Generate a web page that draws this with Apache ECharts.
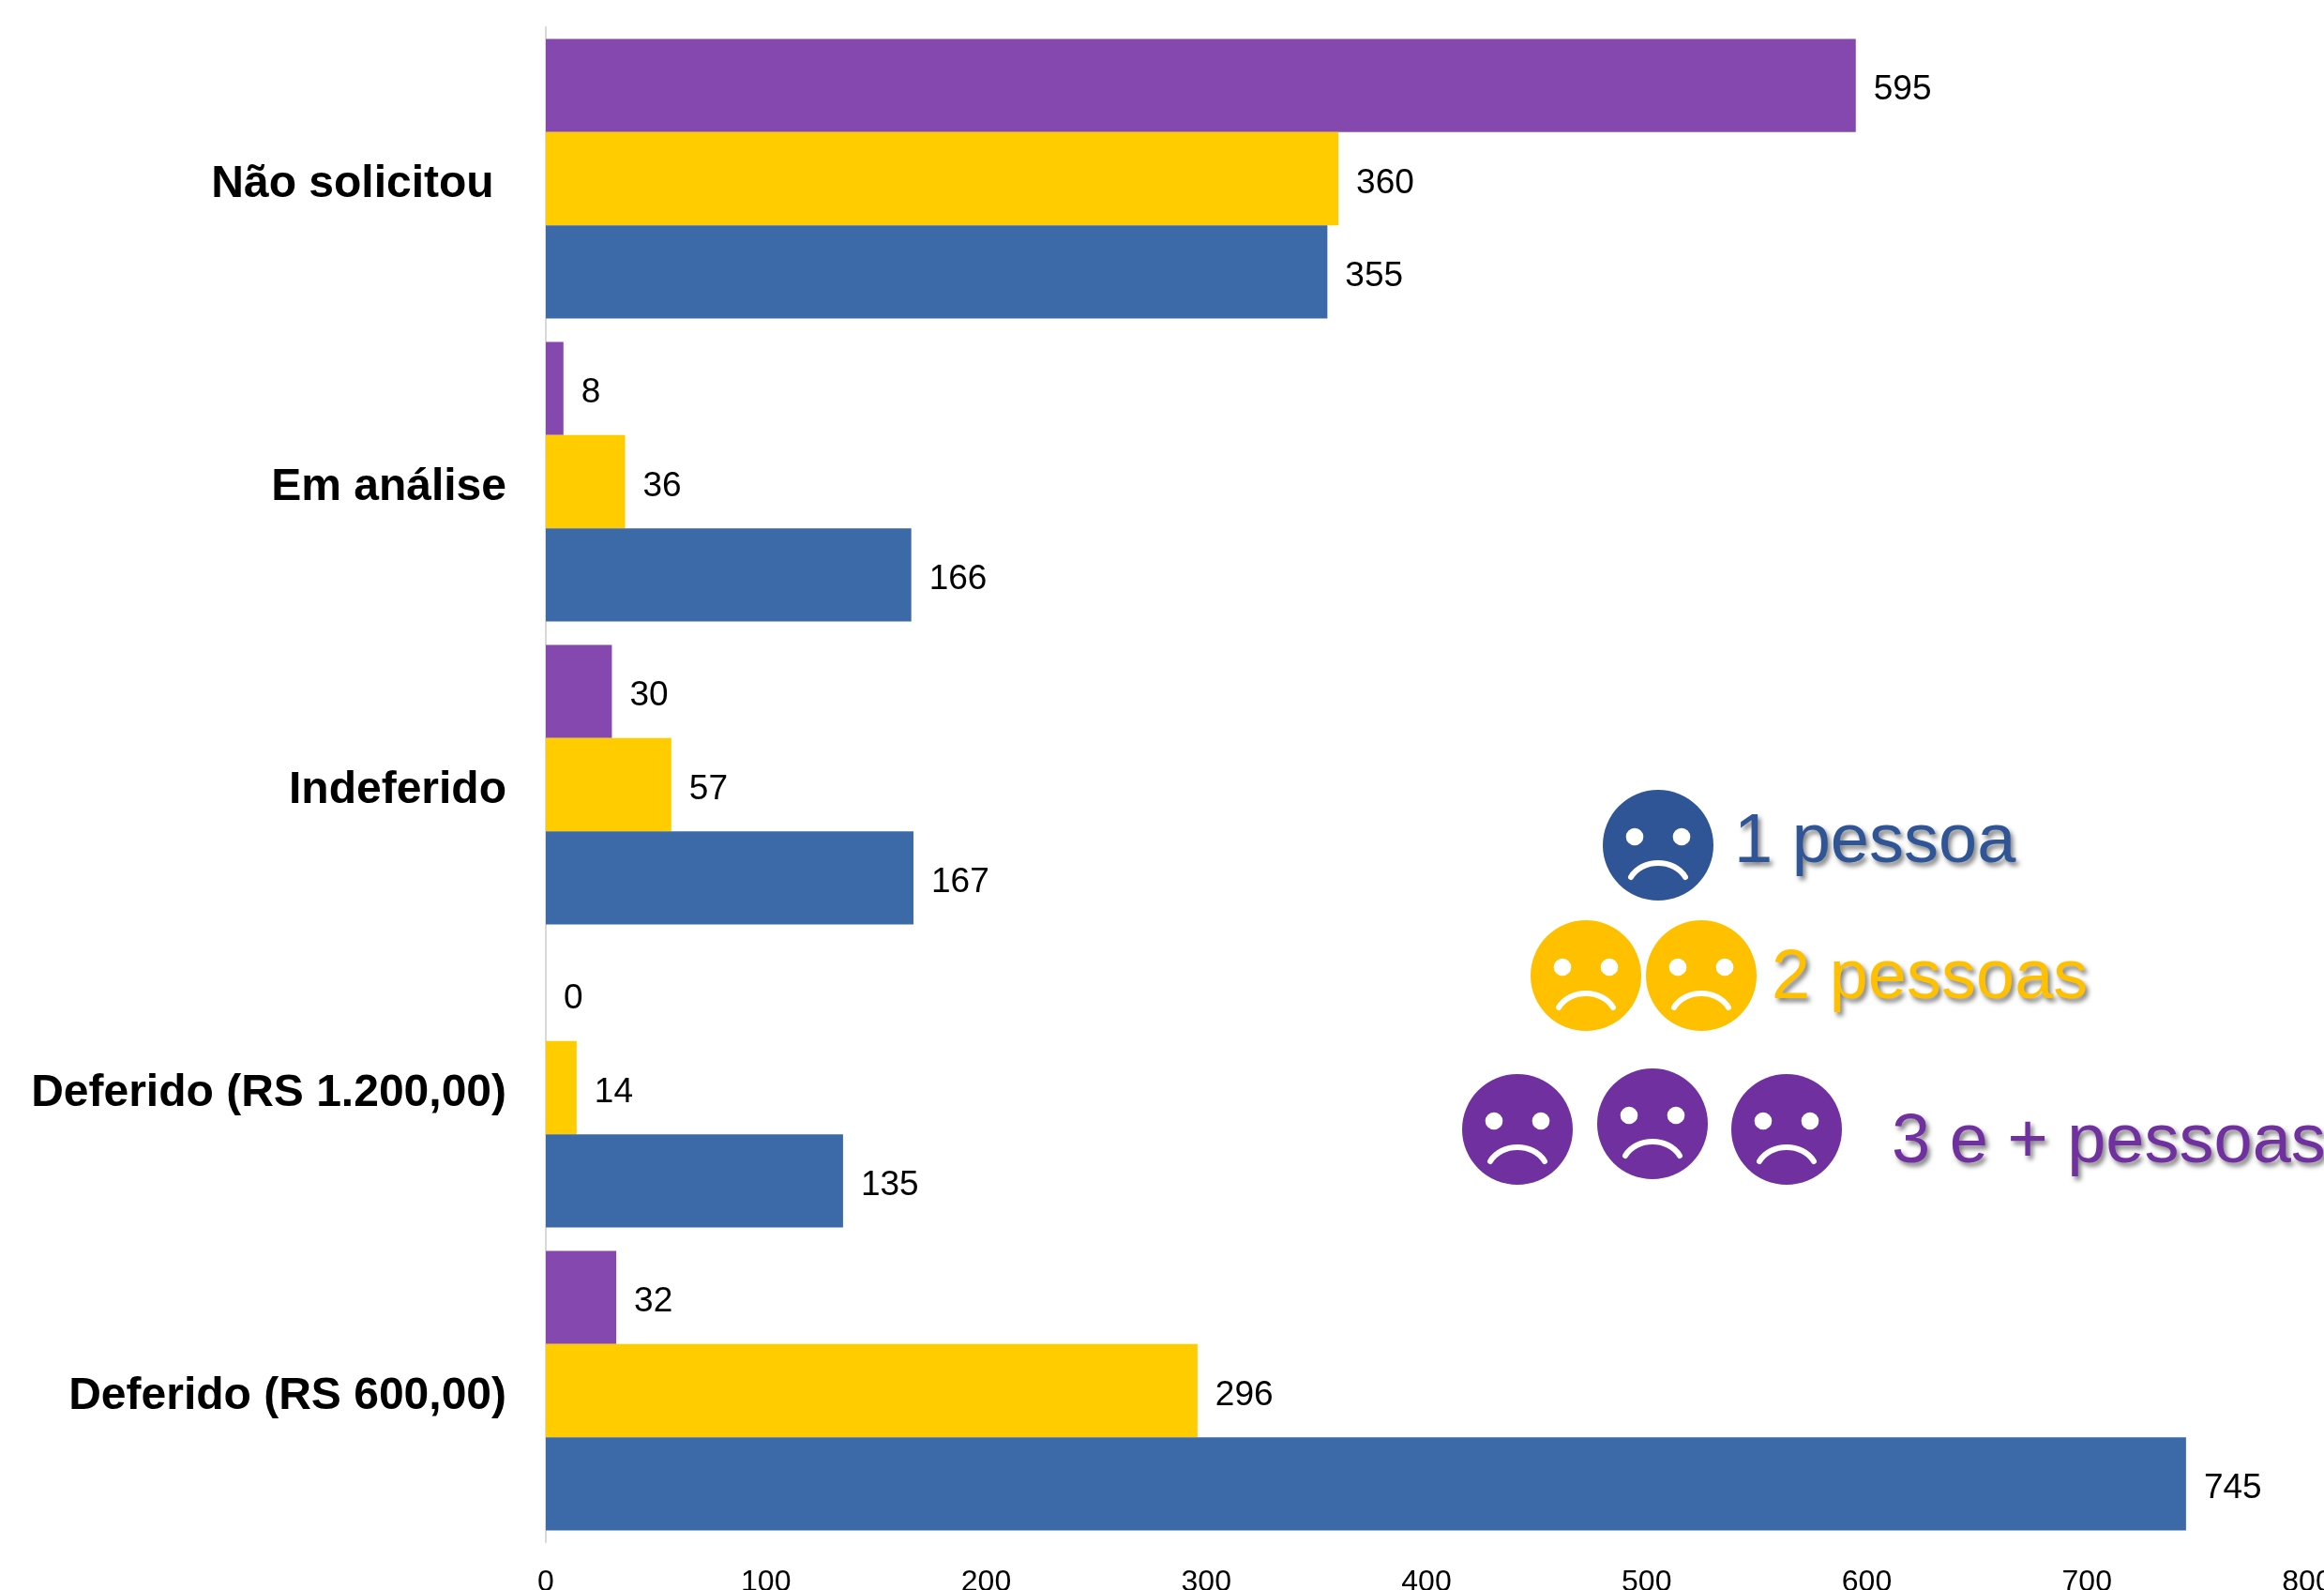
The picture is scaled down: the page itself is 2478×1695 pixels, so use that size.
<!DOCTYPE html>
<html>
<head>
<meta charset="utf-8">
<style>html,body{margin:0;padding:0;background:#fff}#chart{width:2478px;height:1695px}</style>
<script src="https://cdn.jsdelivr.net/npm/echarts@6/dist/echarts.min.js"></script>
</head>
<body>
<div id="chart"></div>
<script>
const categories = ['Deferido (RS 600,00)', 'Deferido (RS 1.200,00)', 'Indeferido', 'Em análise', 'Não solicitou '];
const umaPessoa = [745, 135, 167, 166, 355];
const duasPessoas = [296, 14, 57, 36, 360];
const tresOuMais = [32, 0, 30, 8, 595];
const seriesNames = ['3 e + pessoas', '2 pessoas', '1 pessoa'];
const barColors = ['#8548AE', '#FFCC00', '#3C6AA8'];
const keyColors = { one: '#2F5597', two: '#FFC000', three: '#7030A0' };

const FONT = '"Liberation Sans", Arial, sans-serif';

// Sad face: filled disc, two eyes and a downward mouth arc
function face(cx, cy, color) {
  return {
    type: 'group', x: cx, y: cy,
    children: [
      { type: 'circle', shape: { cx: 0, cy: 0, r: 59 }, style: { fill: color } },
      { type: 'circle', shape: { cx: -25, cy: -9, r: 9.3 }, style: { fill: '#fff' } },
      { type: 'circle', shape: { cx: 25, cy: -9, r: 9.3 }, style: { fill: '#fff' } },
      {
        type: 'bezierCurve',
        shape: { x1: -29, y1: 34, x2: 29, y2: 34, cpx1: -17, cpy1: 14, cpx2: 17, cpy2: 14 },
        style: { stroke: '#fff', lineWidth: 6, fill: null, lineCap: 'round' }
      }
    ]
  };
}

function keyText(name, x, y, color) {
  return {
    type: 'text', x, y,
    style: {
      text: name, fill: color, font: '74px ' + FONT, textVerticalAlign: 'middle',
      textShadowColor: 'rgba(60,60,60,0.65)', textShadowBlur: 5, textShadowOffsetX: 3, textShadowOffsetY: 4
    }
  };
}

const barSeries = [tresOuMais, duasPessoas, umaPessoa].map((values, i) => ({
  name: seriesNames[i],
  type: 'bar',
  data: values,
  barGap: '0%',
  barCategoryGap: '7.7%',
  itemStyle: { color: barColors[i] },
  label: {
    show: true, position: 'right', distance: 19, offset: [0, 5],
    fontFamily: FONT, fontSize: 37, color: '#000'
  }
}));

const chart = echarts.init(document.getElementById('chart'), null, { renderer: 'canvas' });
chart.setOption({
  animation: false,
  backgroundColor: '#fff',
  grid: { left: 582, right: 18, top: 29, height: 1615, containLabel: false, outerBoundsMode: 'none' },
  xAxis: {
    type: 'value', min: 0, max: 800, interval: 100,
    axisLine: { show: false }, axisTick: { show: false }, splitLine: { show: false },
    axisLabel: { fontFamily: FONT, fontSize: 32, color: '#000', margin: 27 }
  },
  yAxis: {
    type: 'category', data: categories,
    axisLine: { show: true, lineStyle: { color: '#D9D9D9', width: 2 } },
    axisTick: { show: false },
    axisLabel: {
      fontFamily: FONT, fontSize: 48, fontWeight: 'bold', color: '#000', margin: 42,
      verticalAlign: 'top', lineHeight: 13
    }
  },
  series: barSeries,
  graphic: [
    face(1768, 901, keyColors.one),
    keyText('1 pessoa', 1849, 899, keyColors.one),
    face(1691, 1040, keyColors.two),
    face(1814, 1040, keyColors.two),
    keyText('2 pessoas', 1889, 1044, keyColors.two),
    face(1618, 1204, keyColors.three),
    face(1762, 1198, keyColors.three),
    face(1905, 1204, keyColors.three),
    keyText('3 e + pessoas', 2017, 1219, keyColors.three)
  ]
});
</script>
</body>
</html>
